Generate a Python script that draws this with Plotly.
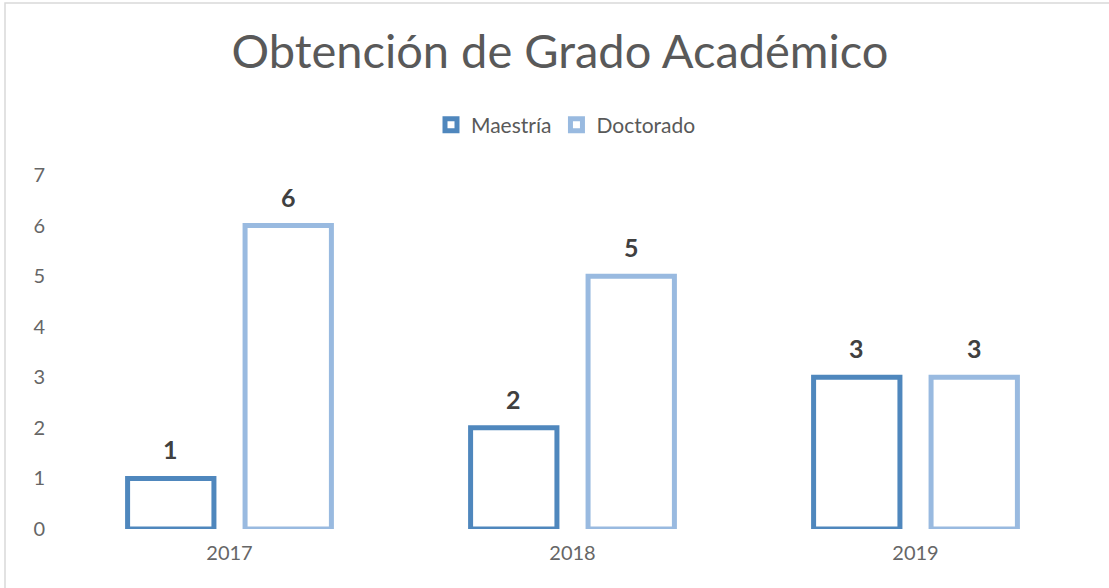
import plotly.graph_objects as go

years = ["2017", "2018", "2019"]
maestria = [1, 2, 3]
doctorado = [6, 5, 3]
series_names = ["Maestría", "Doctorado"]
colors = ["#4F87BD", "#99BAE0"]

W, H = 1109, 588
ml, mr, mt, mb = 58, 22, 175, 59
FONT = "Lato, Carlito, sans-serif"

fig = go.Figure()
for name, vals, col in zip(series_names, [maestria, doctorado], colors):
    fig.add_trace(go.Bar(
        x=years, y=vals, name=name,
        marker=dict(color="white", line=dict(color=col, width=5)),
    ))

bargap = 0.315
bargroupgap = 0.265
slot = (1 - bargap) / 2
for si, vals in enumerate([maestria, doctorado]):
    off = (si - 0.5) * slot
    for i, v in enumerate(vals):
        fig.add_annotation(
            x=i + off, y=v, xref="x", yref="y",
            text=f"<b>{v}</b>", showarrow=False, yshift=29,
            font=dict(family=FONT, size=25, color="#404040"),
        )

pw = W - ml - mr
ph = H - mt - mb
fig.add_shape(type="rect", xref="paper", yref="paper",
              x0=(5 - ml) / pw, x1=(1125 - ml) / pw,
              y0=(H - mb - 600) / ph, y1=(H - mb - 3) / ph,
              line=dict(color="#D9D9D9", width=1.5), fillcolor="rgba(0,0,0,0)", layer="below")

fig.update_layout(
    width=W, height=H,
    margin=dict(l=ml, r=mr, t=mt, b=mb),
    paper_bgcolor="white", plot_bgcolor="white",
    barmode="group", bargap=bargap, bargroupgap=bargroupgap,
    title=dict(text="Obtención de Grado Académico", x=560 / W, xref="container", xanchor="center",
               y=1 - 52 / H, yanchor="middle",
               font=dict(family=FONT, size=47, color="#595959")),
    legend=dict(orientation="h", x=(566 - ml) / pw, xanchor="center", xref="paper",
                y=1 + (175 - 125) / ph, yanchor="middle",
                font=dict(family=FONT, size=21, color="#595959"),
                itemwidth=30, tracegroupgap=0),
    font=dict(family=FONT, color="#595959"),
    xaxis=dict(showgrid=False, showline=False, zeroline=False, ticks="",
               tickfont=dict(size=20, color="#666666"), ticklabelstandoff=10),
    yaxis=dict(range=[0, 7], dtick=1, showgrid=False, showline=False, zeroline=False,
               ticks="", tickfont=dict(size=20, color="#666666"), ticklabelstandoff=12),
    showlegend=True,
)

fig.write_html("out.html", config={"displayModeBar": False},
               post_script="document.body.style.margin='0';")
